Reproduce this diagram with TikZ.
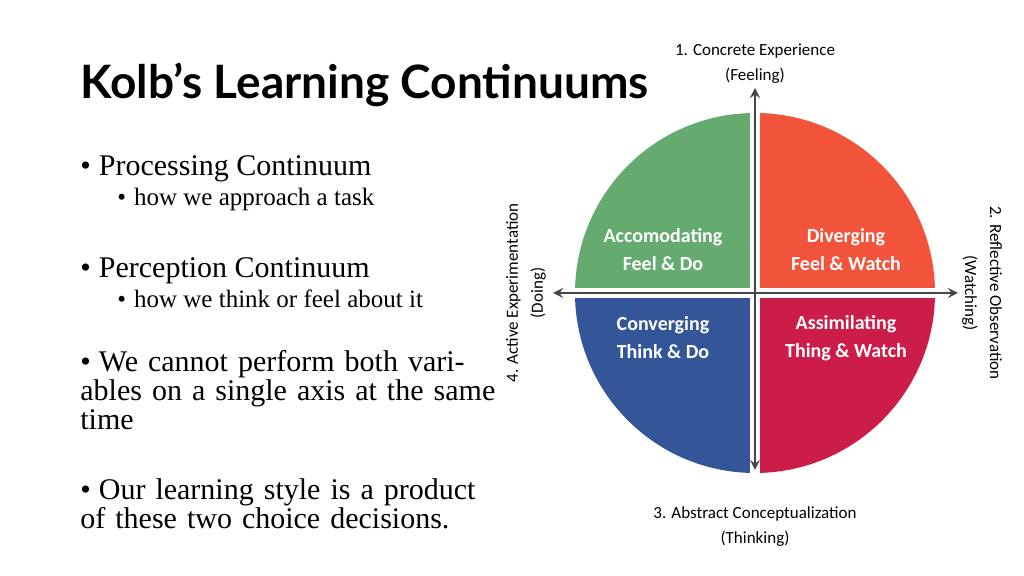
\documentclass[tikz,border=0pt]{standalone}
\usepackage{fontspec}
\setmainfont{Liberation Serif}
\newfontfamily\titlefont{Lato}
\newfontfamily\wheelfont{Carlito}
\usetikzlibrary{calc}
\definecolor{feeldo}{RGB}{101,171,112}
\definecolor{feelwatch}{RGB}{241,84,58}
\definecolor{thinkdo}{RGB}{52,86,152}
\definecolor{thinkwatch}{RGB}{204,28,72}
\definecolor{axisgray}{RGB}{70,70,70}
\tikzset{
  bullet/.style={anchor=north west,align=left,inner sep=0pt,font=\fontsize{15}{13}\selectfont},
  subbullet/.style={anchor=north west,align=left,inner sep=0pt,font=\fontsize{12.5}{13}\selectfont},
  quad/.style={text=white,align=center,font=\wheelfont\bfseries\fontsize{10}{14}\selectfont},
  pole/.style={align=center,font=\wheelfont\fontsize{8.5}{12.5}\selectfont},
  axis/.style={axisgray,line width=1.2pt,-stealth}
}
\begin{document}
\begin{tikzpicture}[x=0.5pt,y=0.5pt]
\useasboundingbox (0,0) rectangle (1024,576);
\node[anchor=base west,inner sep=0pt,font=\titlefont\bfseries\fontsize{23}{26}\selectfont] (title) at (80,477) {Kolb’s Learning Continuums};

\node[bullet] (b1) at (80,421) {•\hspace{4pt}Processing Continuum};
\node[subbullet] (s1) at (117,388) {•\hspace{4pt}how we approach a task};
\node[bullet] (b2) at (80,319) {•\hspace{4pt}Perception Continuum};
\node[subbullet] (s2) at (117,286) {•\hspace{4pt}how we think or feel about it};
\node[bullet,text width=212pt] (b3) at (80,226) {\raggedright\hangindent=8.5pt\hangafter=1 •\hspace{4pt}We cannot perform both variables on a single axis at the same time};
\node[bullet,text width=212pt] (b4) at (80,98) {\raggedright\hangindent=8.5pt\hangafter=1 •\hspace{4pt}Our learning style is a product of these two choice decisions.};

% the wheel
\coordinate (c) at (755,283);
\fill[feeldo] (c) -- (575,283) arc(180:90:180) -- cycle;
\fill[feelwatch] (c) -- (755,463) arc(90:0:180) -- cycle;
\fill[thinkdo] (c) -- (755,103) arc(270:180:180) -- cycle;
\fill[thinkwatch] (c) -- (935,283) arc(0:-90:180) -- cycle;
\draw[white,line width=5pt] (570,283) -- (940,283);
\draw[white,line width=5pt] (755,98) -- (755,468);

\coordinate (top) at (755,488);
\coordinate (bottom) at (755,106);
\coordinate (left) at (553,283);
\coordinate (right) at (958,283);
\draw[axis] (c) -- (top);
\draw[axis] (c) -- (bottom);
\draw[axis] (c) -- (left);
\draw[axis] (c) -- (right);

\node[quad] (acc) at (663,326) {Accomodating\\Feel \& Do};
\node[quad] (div) at (846,326) {Diverging\\Feel \& Watch};
\node[quad] (con) at (663,238) {Converging\\Think \& Do};
\node[quad] (ass) at (846,238) {Assimilating\\Thing \& Watch};

\node[pole] (ce) at (755,512) {1. Concrete Experience\\(Feeling)};
\node[pole] (ac) at (755,49) {3. Abstract Conceptualization\\(Thinking)};
\node[pole,rotate=90] (ae) at (526,283) {4. Active Experimentation\\(Doing)};
\node[pole,rotate=-90] (ro) at (982,283) {2. Reflective Observation\\(Watching)};
\end{tikzpicture}
\end{document}
